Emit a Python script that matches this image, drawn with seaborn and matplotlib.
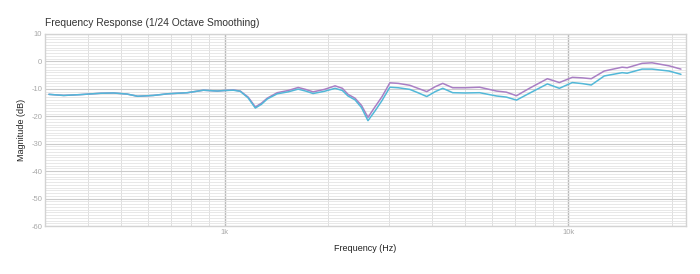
import matplotlib
matplotlib.use("Agg")
import matplotlib.pyplot as plt
import matplotlib.ticker as mticker
import numpy as np
import pandas as pd
import seaborn as sns

freq_hz = [308, 340, 380, 436, 475, 520, 558, 620, 682, 779, 867, 952, 1000, 1060, 1110,
           1170, 1228, 1280, 1330, 1422, 1530, 1636, 1720, 1808, 1950, 2095, 2200, 2285,
           2394, 2500, 2612, 2740, 2868, 3025, 3200, 3457, 3650, 3873, 4100, 4311, 4608,
           5000, 5519, 6181, 6600, 7066, 7704, 8690, 9417, 10270, 11000, 11660, 12720,
           14340, 14830, 16390, 17520, 19630, 21270]
purple_db = [-12.0, -12.4, -12.1, -11.6, -11.5, -11.9, -12.7, -12.4, -11.8, -11.4, -10.5,
             -10.8, -10.6, -10.4, -10.8, -13.0, -16.6, -15.2, -13.4, -11.4, -10.6, -9.5,
             -10.2, -11.1, -10.2, -8.9, -9.8, -12.0, -13.4, -16.0, -20.4, -16.5, -12.9,
             -7.8, -8.0, -8.7, -9.8, -11.0, -9.2, -8.0, -9.6, -9.6, -9.4, -10.8, -11.2,
             -12.5, -9.8, -6.3, -7.7, -5.8, -6.0, -6.3, -3.5, -2.1, -2.3, -0.7, -0.5, -1.6,
             -2.8]
blue_db = [-12.0, -12.4, -12.1, -11.6, -11.5, -11.9, -12.7, -12.4, -11.8, -11.4, -10.5,
           -10.8, -10.6, -10.5, -10.9, -13.3, -17.0, -15.6, -13.7, -11.8, -11.1, -10.1,
           -10.8, -11.7, -10.9, -9.8, -10.6, -12.6, -14.0, -16.8, -21.6, -18.0, -14.3,
           -9.4, -9.6, -10.2, -11.4, -12.8, -11.0, -9.8, -11.4, -11.5, -11.4, -12.6,
           -13.0, -14.1, -11.6, -8.2, -9.8, -7.7, -8.1, -8.6, -5.3, -4.1, -4.3, -2.8,
           -2.8, -3.5, -4.7]
series_names = ["Purple", "Blue"]
series_colors = ["#a97fc4", "#52b8d8"]

y_ticks = [10, 0, -10, -20, -30, -40, -50, -60]
x_major = [1000, 10000]
x_major_labels = ["1k", "10k"]

df = pd.DataFrame({
    "freq": freq_hz * 2,
    "db": purple_db + blue_db,
    "series": [series_names[0]] * len(freq_hz) + [series_names[1]] * len(freq_hz),
})

sns.set_style("white")
plt.rcParams["font.family"] = ["Liberation Sans", "DejaVu Sans"]
plt.rcParams["axes.unicode_minus"] = False

fig = plt.figure(figsize=(7.0, 2.74), dpi=100)
ax = fig.add_axes([45 / 700, 1 - 226 / 274, (686 - 45) / 700, (226 - 34) / 274])

sns.lineplot(data=df, x="freq", y="db", hue="series", palette=series_colors,
             hue_order=series_names, linewidth=1.1, legend=False, ax=ax, zorder=3)

ax.set_xscale("log")
ax.set_xlim(300, 22000)
ax.set_ylim(-60, 10)

ax.xaxis.set_major_locator(mticker.FixedLocator(x_major))
ax.xaxis.set_major_formatter(mticker.FixedFormatter(x_major_labels))
ax.xaxis.set_minor_locator(mticker.LogLocator(base=10, subs=np.arange(2, 10), numticks=20))
ax.xaxis.set_minor_formatter(mticker.NullFormatter())
ax.yaxis.set_major_locator(mticker.FixedLocator(y_ticks))
ax.yaxis.set_minor_locator(mticker.MultipleLocator(1))

ax.grid(which="minor", axis="y", color="#e4e4e4", linewidth=0.6, zorder=0)
ax.grid(which="minor", axis="x", color="#dedede", linewidth=0.7, zorder=0)
ax.grid(which="major", axis="y", color="#cbcbcb", linewidth=0.8, zorder=1)
ax.grid(which="major", axis="x", color="#bbbbbb", linewidth=1.0, zorder=1)
ax.set_axisbelow(True)

for s in ax.spines.values():
    s.set_color("#d3d3d3")
    s.set_linewidth(1.0)

ax.tick_params(axis="both", which="both", length=0, labelsize=5.5, labelcolor="#a8a8a8", pad=2)
ax.tick_params(axis="x", pad=2)

ax.set_xlabel("Frequency (Hz)", fontsize=6.5, color="#222222", labelpad=6)
ax.set_ylabel("Magnitude (dB)", fontsize=6.5, color="#222222", labelpad=4)

fig.text(45 / 700, 1 - 23 / 274, "Frequency Response (1/24 Octave Smoothing)",
         fontsize=7.4, color="#333333", ha="left", va="center")

fig.savefig("out.png", dpi=100, facecolor="white")
